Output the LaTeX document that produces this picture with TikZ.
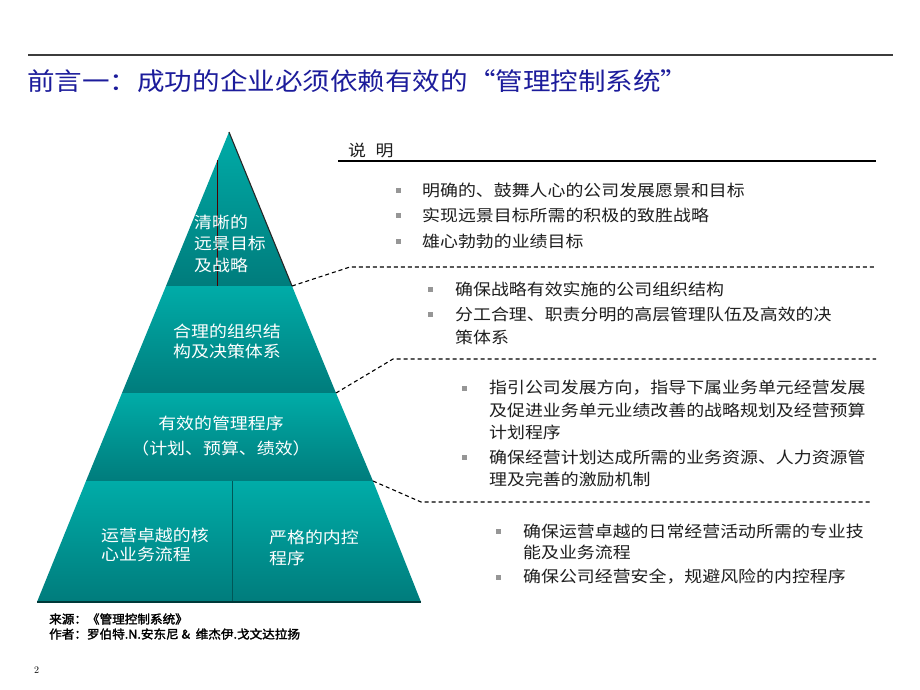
\documentclass[tikz,border=0pt]{standalone}
\usepackage{fontspec}
\newfontfamily\cjk[FakeStretch=1.12]{Noto Sans CJK SC}
\newfontfamily\cjkbold[FakeStretch=1.05,FakeBold=2]{Noto Sans CJK SC}
\definecolor{titleblue}{RGB}{28,28,155}
\definecolor{tealL}{RGB}{0,172,168}
\definecolor{tealD}{RGB}{0,124,124}
\definecolor{bulgray}{RGB}{150,150,150}
\definecolor{txtgray}{RGB}{30,30,30}
\definecolor{rulegray}{RGB}{60,60,60}
\tikzset{
  btxt/.style={anchor=west, inner sep=0pt, text=txtgray, font=\cjk\fontsize{16}{19}\selectfont},
  bsq/.style={fill=bulgray, minimum size=5pt, inner sep=0pt},
  ptxt/.style={inner sep=0pt, text=white, font=\cjk\fontsize{16}{19}\selectfont},
  tier/.style={top color=tealL, bottom color=tealD, draw=none},
  lead/.style={draw=black, line width=1.1pt, dash pattern=on 4pt off 3pt}
}
\begin{document}
\begin{tikzpicture}[x=1pt,y=-1pt]
\path[use as bounding box, fill=white] (0,0) rectangle (920,690);
% header
\coordinate (hl) at (28,55); \coordinate (hr) at (893,55);
\draw[rulegray, line width=2pt] (hl) -- (hr);
\node[anchor=west, inner sep=0pt, text=titleblue, font=\cjk\fontsize{24.6}{28}\selectfont] (title) at (27,81)
  {前言一：成功的企业必须依赖有效的“管理控制系统”};
% pyramid corners
\coordinate (apex) at (229,132);
\coordinate (l1) at (166,286); \coordinate (r1) at (292,286);
\coordinate (l2) at (122,393); \coordinate (r2) at (336,393);
\coordinate (l3) at (86,481);  \coordinate (r3) at (373,481);
\coordinate (l4) at (37,602);  \coordinate (r4) at (421,602);
\coordinate (m3) at (232,481); \coordinate (m4) at (232,602);
\shade[tier] (apex) -- (r1) -- (l1) -- cycle;
\shade[tier] (l1) -- (r1) -- (r2) -- (l2) -- cycle;
\shade[tier] (l2) -- (r2) -- (r3) -- (l3) -- cycle;
\shade[tier] (l3) -- (m3) -- (m4) -- (l4) -- cycle;
\shade[tier] (m3) -- (r3) -- (r4) -- (m4) -- cycle;
\draw[black!85, line width=1.1pt] (apex) -- (r1);
\coordinate (vt) at (217,160); \coordinate (vb) at (217,286);
\draw[black!70!red, line width=0.6pt] (vt) -- (vb);
\draw[black!30!tealD, line width=0.8pt] (m3) -- (m4);
\draw[black!55!tealD, line width=1.4pt] (l4) -- (r4);
% pyramid texts
\node[ptxt, anchor=west] (p1a) at (194,222) {清晰的};
\node[ptxt, anchor=west] (p1b) at (194,243) {远景目标};
\node[ptxt, anchor=west] (p1c) at (194,265) {及战略};
\node[ptxt] (p2a) at (227,331) {合理的组织结};
\node[ptxt] (p2b) at (227,351) {构及决策体系};
\node[ptxt] (p3a) at (221,423) {有效的管理程序};
\node[ptxt] (p3b) at (221,448) {（计划、预算、绩效）};
\node[ptxt, anchor=west] (p4a) at (101,535) {运营卓越的核};
\node[ptxt, anchor=west] (p4b) at (101,554) {心业务流程};
\node[ptxt, anchor=west] (p5a) at (269,537) {严格的内控};
\node[ptxt, anchor=west] (p5b) at (269,558) {程序};
% header of explanation
\node[btxt] (sm) at (348,150) {说\hspace{0.6em}明};
\coordinate (ul) at (338,161); \coordinate (ur) at (876,161);
\draw[black, line width=1.1pt] (ul) -- (ur);
% group 1
\node[bsq] (s11) at (398,190) {}; \node[btxt] (t11) at (422,190) {明确的、鼓舞人心的公司发展愿景和目标};
\node[bsq] (s12) at (398,215) {}; \node[btxt] (t12) at (422,215) {实现远景目标所需的积极的致胜战略};
\node[bsq] (s13) at (398,241) {}; \node[btxt] (t13) at (422,241) {雄心勃勃的业绩目标};
% leader 1
\coordinate (k1) at (350,267); \coordinate (e1) at (876,267);
\draw[lead] (r1) -- (k1) -- (e1);
% group 2
\node[bsq] (s21) at (430,289) {}; \node[btxt] (t21) at (455,289) {确保战略有效实施的公司组织结构};
\node[bsq] (s22) at (430,314) {}; \node[btxt] (t22) at (455,314) {分工合理、职责分明的高层管理队伍及高效的决};
\node[btxt] (t22b) at (455,337) {策体系};
% leader 2
\coordinate (k2) at (393,359); \coordinate (e2) at (876,359);
\draw[lead] (r2) -- (k2) -- (e2);
% group 3
\node[bsq] (s31) at (464,388) {}; \node[btxt] (t31) at (489,388) {指引公司发展方向，指导下属业务单元经营发展};
\node[btxt] (t31b) at (489,410) {及促进业务单元业绩改善的战略规划及经营预算};
\node[btxt] (t31c) at (489,432) {计划程序};
\node[bsq] (s32) at (464,457) {}; \node[btxt] (t32) at (489,457) {确保经营计划达成所需的业务资源、人力资源管};
\node[btxt] (t32b) at (489,479) {理及完善的激励机制};
% leader 3
\coordinate (k3) at (421,502); \coordinate (e3) at (871,502);
\draw[lead] (r3) -- (k3) -- (e3);
% group 4
\node[bsq] (s41) at (498,531) {}; \node[btxt] (t41) at (523,531) {确保运营卓越的日常经营活动所需的专业技};
\node[btxt] (t41b) at (523,552) {能及业务流程};
\node[bsq] (s42) at (498,577) {}; \node[btxt] (t42) at (523,577) {确保公司经营安全，规避风险的内控程序};
% footer
\node[anchor=west, inner sep=0pt, font=\cjkbold\fontsize{12}{14}\selectfont] (src) at (49,619) {来源：《管理控制系统》};
\node[anchor=west, inner sep=0pt, font=\cjkbold\fontsize{12}{14}\selectfont] (auth) at (49,634) {作者：罗伯特.N.安东尼 \&\ \ 维杰伊.戈文达拉扬};
\node[anchor=west, inner sep=0pt, font=\fontsize{10}{12}\selectfont] (pg) at (34,670) {2};
\end{tikzpicture}
\end{document}
